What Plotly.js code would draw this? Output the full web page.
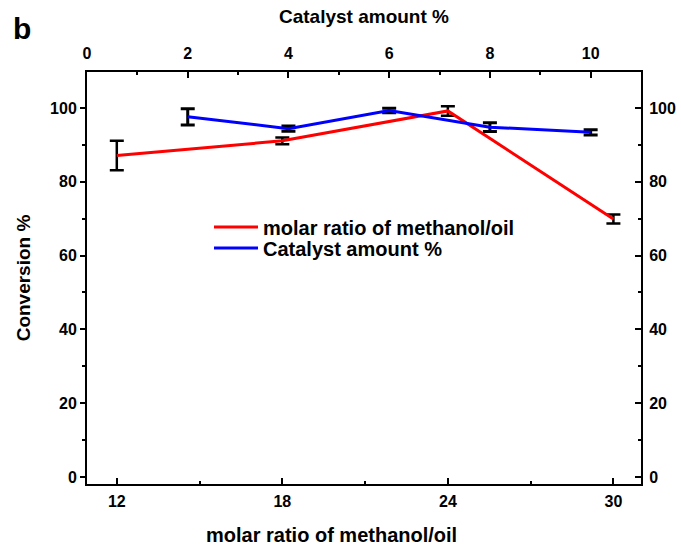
<!DOCTYPE html>
<html>
<head>
<meta charset="utf-8">
<script src="https://cdn.plot.ly/plotly-3.0.1.min.js"></script>
<style>html,body{margin:0;padding:0;background:#fff;}#chart{width:681px;height:545px;}</style>
</head>
<body>
<div id="chart"></div>
<script>
// Molar ratio of methanol/oil series (bottom axis)
const molarRatio = [12, 18, 24, 30];
const molarConv = [87.1, 91.1, 99.2, 69.9];
const molarErr = [4.0, 0.9, 1.3, 1.2];

// Catalyst amount series (top axis)
const catalystAmount = [2, 4, 6, 8, 10];
const catalystConv = [97.6, 94.4, 99.3, 94.8, 93.4];
const catalystErr = [2.2, 0.7, 0.6, 1.2, 0.7];

const molarTicks = [12, 18, 24, 30];
const catalystTicks = [0, 2, 4, 6, 8, 10];
const convTicks = [0, 20, 40, 60, 80, 100];

const FONT = 'Liberation Sans, Arial, sans-serif';
const tickFont = {family: FONT, size: 16, color: '#000', weight: 'bold'};

const traces = [
  {
    x: catalystAmount, y: catalystConv, xaxis: 'x2', yaxis: 'y',
    type: 'scatter', mode: 'lines', name: 'Catalyst amount %',
    line: {color: '#0000ff', width: 3},
    error_y: {type: 'data', array: catalystErr, visible: true, color: '#000', thickness: 3, width: 7},
    legend: 'legend2'
  },
  {
    x: molarRatio, y: molarConv, xaxis: 'x', yaxis: 'y',
    type: 'scatter', mode: 'lines', name: 'molar ratio of methanol/oil',
    line: {color: '#ff0000', width: 3},
    error_y: {type: 'data', array: molarErr, visible: true, color: '#000', thickness: 2.5, width: 7},
    legend: 'legend'
  },
  {
    x: molarRatio, y: molarConv, xaxis: 'x', yaxis: 'y2',
    type: 'scatter', mode: 'markers', marker: {opacity: 0},
    showlegend: false, hoverinfo: 'skip'
  }
];

const L = 87, R = 641, T = 72, B = 484, W = 681, H = 545;
const px = v => (v - L) / (R - L);
const py = v => (B - v) / (B - T);

const axisCommon = {
  showline: true, linewidth: 2, linecolor: '#000',
  showgrid: false, zeroline: false,
  tickcolor: '#000', tickwidth: 2, tickfont: tickFont
};

const layout = {
  width: W, height: H,
  margin: {l: L, r: W - R, t: T, b: H - B},
  paper_bgcolor: '#fff', plot_bgcolor: '#fff',
  font: {family: FONT, color: '#000'},
  xaxis: Object.assign({}, axisCommon, {
    range: [10.92, 31.0], tickmode: 'array', tickvals: molarTicks,
    ticks: 'inside', ticklen: 6, ticklabelstandoff: 2,
    minor: {tick0: 12, dtick: 3, ticks: 'inside', ticklen: 3, tickwidth: 2, tickcolor: '#000'}
  }),
  xaxis2: Object.assign({}, axisCommon, {
    overlaying: 'x', side: 'top', anchor: 'y',
    range: [0, 11], tickmode: 'array', tickvals: catalystTicks,
    ticks: 'inside', ticklen: 6, ticklabelstandoff: 5,
    minor: {tick0: 0, dtick: 1, ticks: 'inside', ticklen: 3, tickwidth: 2, tickcolor: '#000'},
    title: {text: 'Catalyst amount %', font: {family: FONT, size: 19, color: '#000', weight: 'bold'}, standoff: 16}
  }),
  yaxis: Object.assign({}, axisCommon, {
    range: [-1.9, 109.75], tickmode: 'array', tickvals: convTicks,
    ticks: 'outside', ticklen: 5,
    minor: {tick0: 0, dtick: 10, ticks: 'outside', ticklen: 3, tickwidth: 2, tickcolor: '#000'},
    title: {text: 'Conversion %', font: {family: FONT, size: 19, color: '#000', weight: 'bold'}, standoff: 14}
  }),
  yaxis2: Object.assign({}, axisCommon, {
    overlaying: 'y', side: 'right', anchor: 'x',
    range: [-1.9, 109.75], tickmode: 'array', tickvals: convTicks,
    ticks: 'inside', ticklen: 6, ticklabelstandoff: 3,
    minor: {tick0: 0, dtick: 10, ticks: 'inside', ticklen: 3, tickwidth: 2, tickcolor: '#000'}
  }),
  legend: {
    x: px(209), y: py(227), xanchor: 'left', yanchor: 'middle',
    bgcolor: 'rgba(0,0,0,0)', borderwidth: 0, itemwidth: 44,
    font: {family: FONT, size: 20, color: '#000', weight: 'bold'}
  },
  legend2: {
    x: px(209), y: py(248), xanchor: 'left', yanchor: 'middle',
    bgcolor: 'rgba(0,0,0,0)', borderwidth: 0, itemwidth: 44,
    font: {family: FONT, size: 20, color: '#000', weight: 'bold'}
  },
  annotations: [
    {text: 'b', xref: 'paper', yref: 'paper', x: px(11), y: py(28), xanchor: 'left', yanchor: 'middle',
     showarrow: false, font: {family: FONT, size: 30, color: '#000', weight: 'bold'}},
    {text: 'molar ratio of methanol/oil', xref: 'paper', yref: 'paper', x: px(204), y: py(535),
     xanchor: 'left', yanchor: 'middle', showarrow: false,
     font: {family: FONT, size: 20, color: '#000', weight: 'bold'}}
  ]
};

Plotly.newPlot('chart', traces, layout, {displayModeBar: false, staticPlot: true});
</script>
</body>
</html>
